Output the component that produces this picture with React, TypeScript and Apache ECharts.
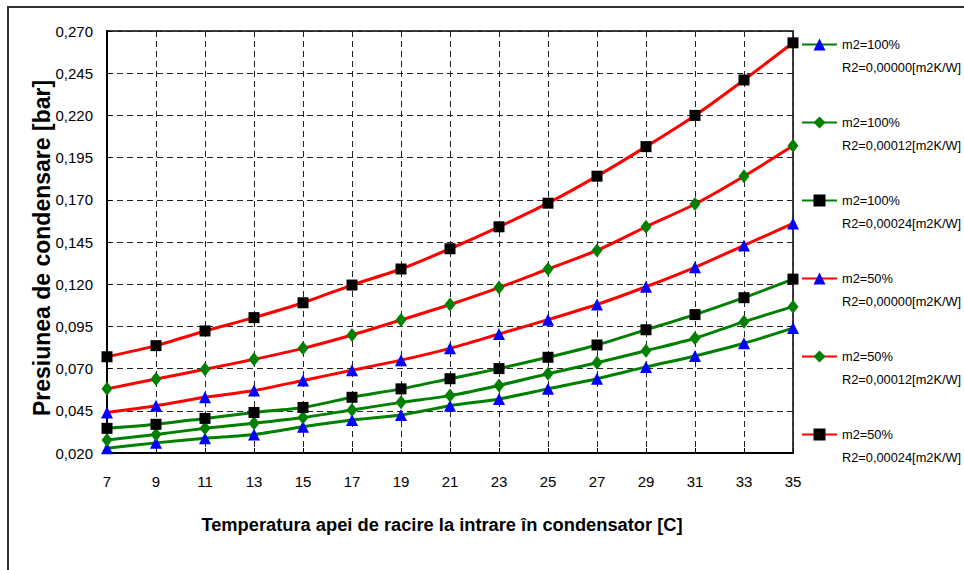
import React, { useEffect, useRef } from "react";
import * as echarts from "echarts";

const temps = ["7", "9", "11", "13", "15", "17", "19", "21", "23", "25", "27", "29", "31", "33", "35"];

const m100R0 = [0.0228, 0.026, 0.0287, 0.031, 0.0356, 0.0396, 0.0425, 0.048, 0.052, 0.058, 0.064, 0.071, 0.0775, 0.085, 0.094];
const m100R12 = [0.0277, 0.031, 0.0346, 0.0376, 0.041, 0.0455, 0.05, 0.054, 0.06, 0.067, 0.0735, 0.0806, 0.088, 0.0978, 0.1067];
const m100R24 = [0.0346, 0.037, 0.0405, 0.044, 0.047, 0.053, 0.058, 0.064, 0.07, 0.0767, 0.084, 0.093, 0.102, 0.112, 0.123];
const m50R0 = [0.044, 0.048, 0.053, 0.057, 0.063, 0.069, 0.075, 0.082, 0.0905, 0.099, 0.108, 0.1185, 0.13, 0.143, 0.156];
const m50R12 = [0.058, 0.0638, 0.0696, 0.0755, 0.082, 0.0899, 0.0988, 0.108, 0.118, 0.129, 0.14, 0.154, 0.1675, 0.184, 0.202];
const m50R24 = [0.077, 0.0836, 0.0923, 0.1002, 0.109, 0.1195, 0.129, 0.141, 0.154, 0.168, 0.184, 0.2015, 0.22, 0.241, 0.263];

const seriesNames = [
  "m2=100%\nR2=0,00000[m2K/W]",
  "m2=100%\nR2=0,00012[m2K/W]",
  "m2=100%\nR2=0,00024[m2K/W]",
  "m2=50%\nR2=0,00000[m2K/W]",
  "m2=50%\nR2=0,00012[m2K/W]",
  "m2=50%\nR2=0,00024[m2K/W]",
];

const xTitle = "Temperatura apei de racire la intrare în condensator [C]";
const yTitle = "Presiunea de condensare [bar]";

const yMin = 0.02;
const yMax = 0.27;
const yStep = 0.025;

const SANS = "'Liberation Sans', Arial, Helvetica, sans-serif";

export default function App() {
  const ref = useRef<HTMLDivElement>(null);

  useEffect(() => {
    if (!ref.current) return;
    const chart = echarts.init(ref.current, undefined, { renderer: "svg" });

    const values = [m100R0, m100R12, m100R24, m50R0, m50R12, m50R24];
    const lineColors = ["#008000", "#008000", "#008000", "#ff0000", "#ff0000", "#ff0000"];
    const symbols = ["triangle", "diamond", "rect", "triangle", "diamond", "rect"];
    const symColors = ["#0000ff", "#008000", "#000000", "#0000ff", "#008000", "#000000"];
    const symSizes = [12, [11, 14], 11, 12, [11, 14], 11];

    const series = values.map((d, i) => ({
      name: seriesNames[i],
      type: "line",
      data: d,
      smooth: 0.25,
      clip: false,
      symbol: symbols[i],
      symbolSize: symSizes[i],
      itemStyle: { color: symColors[i] },
      lineStyle: { color: lineColors[i], width: 3 },
      z: i < 3 ? 3 : 2,
    }));

    chart.setOption({
      animation: false,
      backgroundColor: "#ffffff",
      graphic: [
        {
          type: "rect",
          z: -10,
          silent: true,
          shape: { x: 8, y: 7, width: 1100, height: 800 },
          style: { fill: "none", stroke: "#333333", lineWidth: 2 },
        },
        {
          type: "text",
          x: 42,
          y: 248,
          rotation: Math.PI / 2,
          silent: true,
          style: {
            text: yTitle,
            fontFamily: SANS,
            fontSize: 23,
            fontWeight: "bold",
            fill: "#000",
            align: "center",
            verticalAlign: "middle",
          },
        },
      ],
      grid: {
        left: 107,
        right: 171,
        top: 31,
        bottom: 117,
        show: true,
        borderColor: "#000000",
        borderWidth: 1.5,
        backgroundColor: "transparent",
      },
      legend: {
        orient: "vertical",
        left: 801,
        top: 10,
        padding: 0,
        itemWidth: 35,
        itemHeight: 15,
        itemGap: 9,
        data: seriesNames,
        formatter: (name: string) => "\n" + name,
        textStyle: {
          fontFamily: SANS,
          fontSize: 12.8,
          color: "#000",
          lineHeight: 23,
        },
      },
      xAxis: {
        type: "category",
        data: temps,
        boundaryGap: false,
        name: xTitle,
        nameLocation: "middle",
        nameGap: 62,
        nameTextStyle: {
          fontFamily: SANS,
          fontSize: 18.3,
          fontWeight: "bold",
          color: "#000",
          padding: [0, 16, 0, 0],
        },
        axisLine: { lineStyle: { color: "#000", width: 2 } },
        axisTick: { inside: true, length: 5, lineStyle: { color: "#000" } },
        axisLabel: { margin: 21, fontFamily: SANS, fontSize: 15, color: "#000" },
        splitLine: { show: true, lineStyle: { color: "#222", type: [6, 4], width: 1 } },
      },
      yAxis: {
        type: "value",
        min: yMin,
        max: yMax,
        interval: yStep,
        axisLine: { show: true, lineStyle: { color: "#000", width: 2 } },
        axisTick: { show: true, inside: true, length: 5, lineStyle: { color: "#000" } },
        axisLabel: {
          margin: 14,
          fontFamily: SANS,
          fontSize: 15,
          color: "#000",
          formatter: (v: number) => v.toFixed(3).replace(".", ","),
        },
        splitLine: { show: true, lineStyle: { color: "#222", type: [6, 4], width: 1 } },
      },
      series,
    });

    return () => chart.dispose();
  }, []);

  return (
    <div
      ref={ref}
      style={{ position: "fixed", left: 0, top: 0, width: 964, height: 570, background: "#fff" }}
    />
  );
}
